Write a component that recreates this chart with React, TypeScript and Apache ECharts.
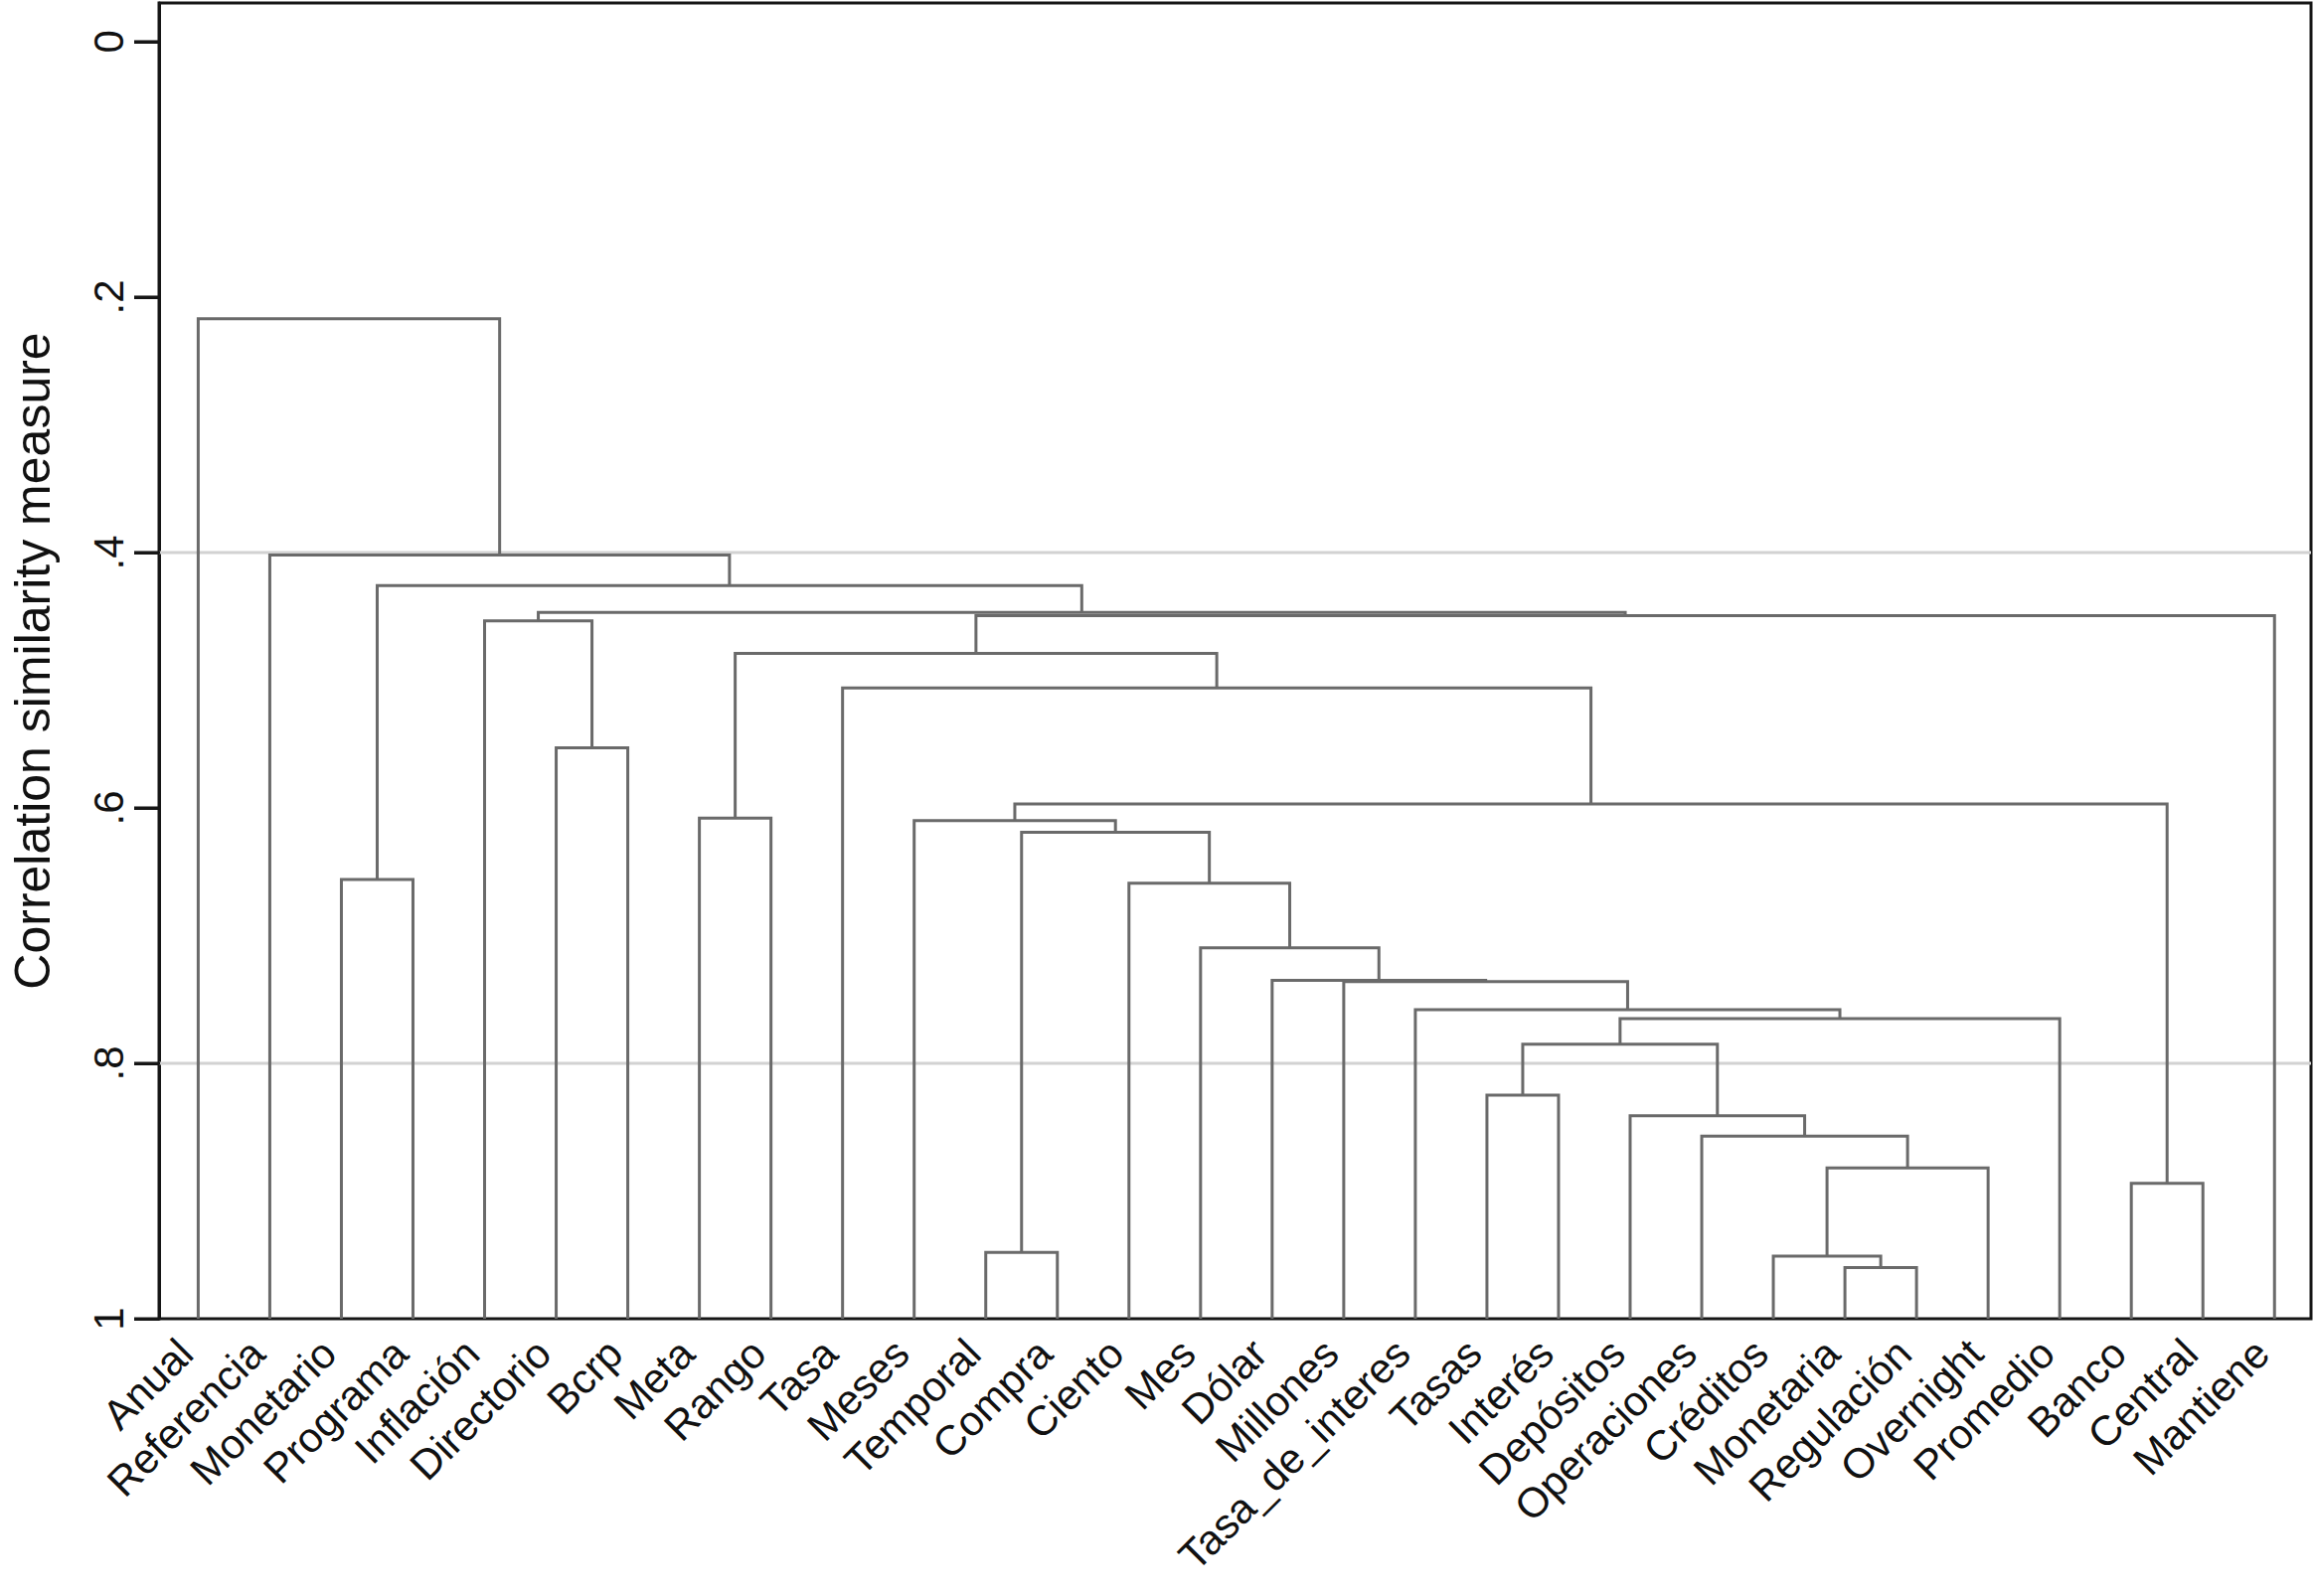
import React, { useEffect, useRef } from "react";
import * as echarts from "echarts";

// Leaves (left to right)
const leaves = [
  "Anual", "Referencia", "Monetario", "Programa", "Inflación", "Directorio", "Bcrp", "Meta", "Rango", "Tasa",
  "Meses", "Temporal", "Compra", "Ciento", "Mes", "Dólar", "Millones", "Tasa_de_interes", "Tasas", "Interés",
  "Depósitos", "Operaciones", "Créditos", "Monetaria", "Regulación", "Overnight", "Promedio", "Banco", "Central", "Mantiene",
];

// Linkage: merge k creates node 30 + k from mergeLeft[k] and mergeRight[k] at mergeHeight[k]
const mergeLeft = [23, 22, 11, 27, 31, 21, 20, 18, 37, 38, 17, 16, 15, 14, 13, 2, 32, 10, 7, 47, 5, 9, 48, 4, 52, 53, 45, 1, 0];
const mergeRight = [24, 30, 12, 28, 25, 34, 35, 19, 36, 26, 39, 40, 41, 42, 43, 3, 44, 46, 8, 33, 6, 49, 51, 50, 29, 54, 55, 56, 57];
const mergeHeight = [
  0.96, 0.951, 0.948, 0.894, 0.882, 0.857, 0.841, 0.825, 0.785, 0.765,
  0.758, 0.736, 0.735, 0.7095, 0.659, 0.656, 0.619, 0.61, 0.608, 0.597,
  0.553, 0.506, 0.479, 0.4535, 0.4495, 0.447, 0.426, 0.402, 0.217,
];

// Axis ticks
const yTickValues = [0, 0.2, 0.4, 0.6, 0.8, 1];
const yTickLabels = ["0", ".2", ".4", ".6", ".8", "1"];
const gridLevels = [0.4, 0.8];

const X_MIN = -0.547;
const X_MAX = 29.51;
const Y_MIN = -0.0303;
const Y_MAX = 1;
const TICK_LEN = 25;
const FONT = "'Liberation Sans', Arial, Helvetica, sans-serif";

function buildSegments() {
  const nodeX: number[] = leaves.map((_, i) => i);
  const nodeH: number[] = leaves.map(() => 1);
  const segs: number[][] = [];
  for (let k = 0; k < mergeLeft.length; k++) {
    const a = mergeLeft[k];
    const b = mergeRight[k];
    const h = mergeHeight[k];
    segs.push([nodeX[a], nodeX[b], nodeH[a], nodeH[b], h]);
    nodeX.push((nodeX[a] + nodeX[b]) / 2);
    nodeH.push(h);
  }
  return segs;
}

export default function App() {
  const ref = useRef<HTMLDivElement>(null);
  useEffect(() => {
    if (!ref.current) return;
    const chart = echarts.init(ref.current, null, { renderer: "svg" });
    const segs = buildSegments();
    const leafIdx = leaves.map((_, i) => i);
    chart.setOption({
      animation: false,
      backgroundColor: "#ffffff",
      grid: {
        left: 156.5,
        right: 3,
        top: 3,
        bottom: 279,
        show: true,
        borderColor: "#161616",
        borderWidth: 3,
        backgroundColor: "transparent",
      },
      xAxis: {
        type: "value",
        min: X_MIN,
        max: X_MAX,
        axisLine: { show: false, onZero: false },
        axisTick: { show: false },
        splitLine: { show: false },
        axisLabel: {
          customValues: leafIdx,
          formatter: (v: number) => leaves[Math.round(v)] ?? "",
          rotate: 45,
          fontSize: 42,
          fontFamily: FONT,
          color: "#111",
          margin: 15,
          padding: [0, 18, 0, 0],
        },
      },
      yAxis: {
        type: "value",
        inverse: true,
        min: Y_MIN,
        max: Y_MAX,
        position: "left",
        name: "Correlation similarity measure",
        nameLocation: "middle",
        nameGap: 102,
        nameRotate: 90,
        nameTextStyle: { fontSize: 50, fontFamily: FONT, color: "#111" },
        axisLine: { show: true, onZero: false, lineStyle: { color: "#161616", width: 3 } },
        splitLine: { show: false },
        axisTick: {
          show: true,
          inside: false,
          customValues: yTickValues,
          length: TICK_LEN,
          lineStyle: { color: "#161616", width: 3 },
        },
        axisLabel: {
          customValues: yTickValues,
          formatter: (v: number) => {
            const i = yTickValues.findIndex((t) => Math.abs(t - v) < 1e-6);
            return i >= 0 ? yTickLabels[i] : "";
          },
          rotate: 90,
          fontSize: 42,
          fontFamily: FONT,
          color: "#111",
          margin: 30,
        },
      },
      series: [
        {
          type: "custom",
          silent: true,
          z: 1,
          data: gridLevels.map((v) => [X_MIN, v]),
          renderItem: (params: any, api: any) => {
            const v = api.value(1);
            const p1 = api.coord([X_MIN, v]);
            const p2 = api.coord([X_MAX, v]);
            return {
              type: "line",
              shape: { x1: p1[0], y1: p1[1], x2: p2[0], y2: p2[1] },
              style: { stroke: "#d2d2d2", lineWidth: 3 },
            };
          },
        },
        {
          type: "custom",
          silent: true,
          z: 2,
          data: segs,
          renderItem: (params: any, api: any) => {
            const xl = api.value(0);
            const xr = api.value(1);
            const hl = api.value(2);
            const hr = api.value(3);
            const h = api.value(4);
            const pts = [
              api.coord([xl, hl]),
              api.coord([xl, h]),
              api.coord([xr, h]),
              api.coord([xr, hr]),
            ];
            return {
              type: "polyline",
              shape: { points: pts },
              style: { stroke: "#6a6a6a", lineWidth: 3, fill: null, lineJoin: "miter", lineCap: "butt" },
            };
          },
        },
      ],
    });

    // Y-axis tick marks left of the frame, placed through the chart's own scale
    const ticks = yTickValues.map((v) => {
      const p = chart.convertToPixel({ gridIndex: 0 }, [X_MIN, v]) as number[];
      return {
        type: "polyline",
        silent: true,
        z: 100,
        shape: { points: [[p[0] - TICK_LEN, p[1]], [p[0] + 1, p[1]]] },
        style: { stroke: "#161616", lineWidth: 3, fill: null },
      };
    });
    chart.setOption({ graphic: { elements: ticks } });

    return () => chart.dispose();
  }, []);
  return (
    <div
      ref={ref}
      style={{ position: "fixed", left: 0, top: 0, width: "2328px", height: "1606px", background: "#fff" }}
    />
  );
}
